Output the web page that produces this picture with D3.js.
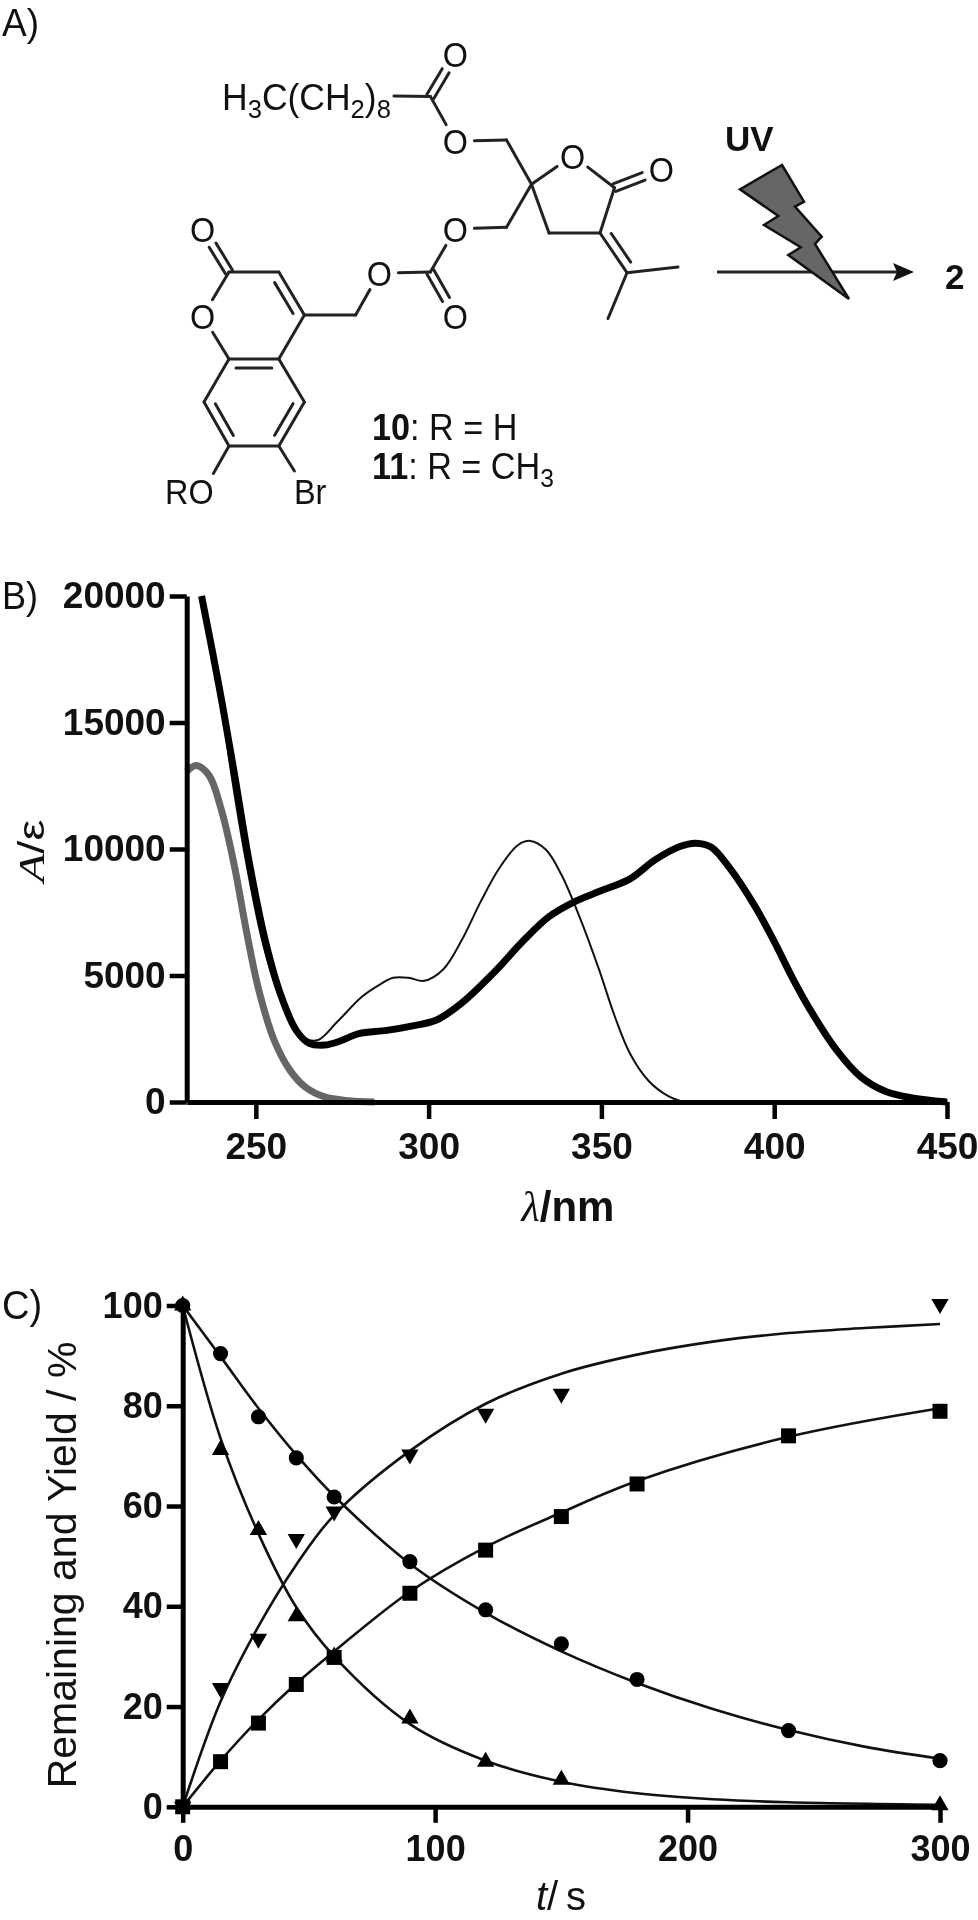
<!DOCTYPE html>
<html>

<head>
    <meta charset="utf-8">
    <title>Photolysis figure</title>
    <script src="https://d3js.org/d3.v7.min.js"></script>
    <style>
        body {
            margin: 0;
            background: #fff;
        }

        svg {
            display: block;
            filter: blur(0.7px);
        }

        text {
            font-family: "Liberation Sans", Arial, sans-serif;
            fill: #111;
        }

        .tick text {
            font-weight: bold;
        }

        .domain,
        .tick line {
            stroke: #000;
        }
    </style>
</head>

<body>
    <svg width="978" height="1920"></svg>

    <script>
        // panel B: absorption spectra, wavelength in nm and epsilon
        const thickNm = [234.3, 239.2, 243.7, 248.2, 252.7, 257.2, 261.7, 265.3, 269.9, 274.4, 279.8, 287.9, 295, 302.3, 309.5, 318.6, 327.6, 334.8, 342, 349.3, 358.3, 365.5, 372.7, 377.3, 381.8, 387.2, 394.4, 399.8, 405.3, 410.7, 417.9, 425, 432.3, 439.5, 450];
        const thickEps = [20000, 16550, 13060, 9400, 6400, 4240, 2830, 2330, 2250, 2410, 2700, 2830, 3000, 3240, 3900, 5075, 6400, 7320, 7900, 8320, 8820, 9570, 10100, 10230, 10070, 9230, 7740, 6400, 4900, 3580, 2080, 1000, 415, 170, 0];
        const thinNm = [234.3, 239.2, 242.8, 247.3, 251.8, 256.3, 260.8, 264.4, 268, 273.5, 280.7, 286.1, 289.7, 294.2, 298.7, 304.2, 309.6, 315, 320.4, 325.8, 329.4, 333.9, 338.4, 343.9, 349.3, 353.8, 358.3, 363.7, 369.1, 373.6];
        const thinEps = [20000, 16550, 13060, 9400, 6400, 4330, 3000, 2500, 2450, 3160, 4160, 4660, 4910, 4910, 4790, 5240, 6400, 7900, 9230, 10150, 10320, 9980, 8990, 7240, 5240, 3410, 1910, 830, 250, 0];
        const grayNm = [230, 232.8, 236.5, 240, 243.7, 247.3, 250.9, 255.4, 259.9, 264.4, 269.9, 277, 284.3];
        const grayEps = [13060, 13300, 12900, 11560, 9400, 6740, 4400, 2410, 1250, 580, 200, 50, 0];
        const wavelengthTicks = [250, 300, 350, 400, 450];
        const epsilonTicks = [0, 5000, 10000, 15000, 20000];

        // panel C: measured points
        const circleT = [0, 15, 30, 45, 60, 90, 120, 150, 180, 240, 300];
        const circleY = [100, 90.4, 77.8, 69.6, 61.8, 48.9, 39.3, 32.5, 25.4, 15.2, 9.2];
        const squareT = [0, 15, 30, 45, 60, 90, 120, 150, 180, 240, 300];
        const squareY = [0, 9, 16.7, 24.4, 29.8, 42.6, 51.2, 57.9, 64.4, 74, 78.9];
        const upT = [0, 15, 30, 45, 60, 90, 120, 150, 300];
        const upY = [100, 71.2, 55.2, 38, 30, 17.6, 9, 5.4, 0.3];
        const downT = [0, 15, 30, 45, 60, 90, 120, 150, 300];
        const downY = [0, 23.7, 33.5, 53.4, 58.9, 70.3, 78.4, 82.4, 100.3];

        // panel C: fitted curves
        const circleFitT = [0, 15, 30, 45, 60, 90, 120, 150, 180, 210, 240, 270, 300];
        const circleFitY = [100, 89.8, 79.5, 70.2, 62, 48.5, 38.7, 31, 24.7, 19.5, 15.3, 12, 9.6];
        const upFitT = [0, 15, 30, 45, 60, 90, 120, 150, 180, 210, 240, 300];
        const upFitY = [100, 73.5, 54.5, 39.8, 30, 16.5, 9.2, 5, 2.7, 1.5, 0.9, 0.4];
        const downFitT = [0, 15, 30, 45, 60, 90, 120, 150, 180, 210, 240, 270, 300];
        const downFitY = [0, 21, 36, 48.3, 58.2, 71, 80.4, 86.4, 90.2, 92.8, 94.5, 95.5, 96.3];
        const squareFitT = [0, 15, 30, 45, 60, 90, 120, 150, 180, 240, 300];
        const squareFitY = [0, 9.2, 17.4, 24.6, 31, 42.9, 51.8, 58.7, 65, 73.8, 79.5];
        const timeTicks = [0, 100, 200, 300];
        const percentTicks = [0, 20, 40, 60, 80, 100];

        // panel A: skeletal formula
        const atoms = {
            chain: [394, 96], c1: [430.4, 96.4], o1: [455.4, 54.4, "O"], o2: [455.4, 141.2, "O"],
            ch2a: [506.5, 140], q: [531.5, 184.2], oRing: [572.7, 155.6, "O"], cLac: [614.5, 187.7],
            oLac: [661.3, 169.4, "O"], cAlpha: [600, 233], ch2r: [549, 233], ch2b: [506.5, 227.3],
            o3: [455.4, 229, "O"], c2: [430.4, 272], o4: [379.3, 273, "O"], o5: [455.4, 316, "O"],
            ch2c: [355.6, 315], c4: [304.4, 315], c3: [278.8, 272], c22: [229, 272],
            o6: [202.7, 229, "O"], o7: [202.7, 316, "O"], c8a: [229, 359], c4a: [278.8, 359],
            c5: [304.4, 402], c6: [278.8, 446], c7: [229, 446], c8: [204, 402],
            ro: [213.4, 473.5], br: [294.4, 471], cIso: [627, 272.7], me1: [678, 267], me2: [608, 318.5]
        };
        const singleBonds = [
            ["chain", "c1"], ["c1", "o2"], ["o2", "ch2a"], ["ch2a", "q"], ["q", "oRing"], ["oRing", "cLac"],
            ["cLac", "cAlpha"], ["cAlpha", "ch2r"], ["ch2r", "q"], ["q", "ch2b"], ["ch2b", "o3"], ["o3", "c2"],
            ["c2", "o4"], ["o4", "ch2c"], ["ch2c", "c4"], ["c3", "c22"], ["c22", "o7"], ["o7", "c8a"],
            ["c4", "c4a"], ["c4a", "c5"], ["c6", "c7"], ["c8", "c8a"], ["c7", "ro"], ["c6", "br"],
            ["cIso", "me1"], ["cIso", "me2"]
        ];
        const centredDoubles = [["c1", "o1"], ["cLac", "oLac"], ["c2", "o5"], ["c22", "o6"]];
        // second line sits inside the ring, or on the given side
        const innerDoubles = [["c3", "c4", 1], ["c8a", "c4a", 1], ["c5", "c6", 1], ["c7", "c8", 1], ["cAlpha", "cIso", -1]];
        const boltPoints = [[782, 165], [740, 189.3], [778.3, 216], [764, 225], [800.7, 247.3], [788.3, 255], [849, 299], [815, 244], [821.7, 236.7], [795, 206.7], [804, 201.7]];

        const svg = d3.select("svg");
        const molX = d3.scaleIdentity();
        const molY = d3.scaleIdentity();

        // 写文字的小工具, sx squeezes the glyphs sideways like the source scan
        function label(x, y, str, size, weight, anchor, sx) {
            return svg.append("text")
                .attr("transform", `translate(${x},${y}) scale(${sx || 1},1)`)
                .attr("font-size", size)
                .attr("font-weight", weight || "normal")
                .attr("text-anchor", anchor || "start")
                .text(str);
        }

        function runs(x, y, size, parts, anchor, sx) {
            const t = svg.append("text")
                .attr("transform", `translate(${x},${y}) scale(${sx || 1},1)`)
                .attr("font-size", size)
                .attr("text-anchor", anchor || "start");
            parts.forEach(p => {
                const s = t.append("tspan").text(p.s);
                if (p.b) s.attr("font-weight", "bold");
                if (p.i) s.attr("font-style", "italic").attr("font-family", p.f || null);
                if (p.sub) s.attr("font-size", size * 0.72).attr("dy", 8);
                if (p.up) s.attr("dy", -8);
            });
            return t;
        }

        // panel letters
        label(2, 36, "A)", 39, "normal", "start", 0.95);
        label(2, 609, "B)", 38, "normal", "start", 0.95);
        label(2, 1319, "C)", 40, "normal", "start", 0.95);

        // panel A bonds
        const mol = svg.append("g").attr("stroke", "#222").attr("stroke-width", 3).attr("stroke-linecap", "round");

        function trimmed(a, b) {
            const p = atoms[a], q = atoms[b];
            const dx = q[0] - p[0], dy = q[1] - p[1], len = Math.hypot(dx, dy);
            const ta = p[2] ? 19 / len : 0, tb = q[2] ? 19 / len : 0;
            return [p[0] + dx * ta, p[1] + dy * ta, q[0] - dx * tb, q[1] - dy * tb, -dy / len, dx / len];
        }

        function bond(x1, y1, x2, y2) {
            mol.append("line")
                .attr("x1", molX(x1)).attr("y1", molY(y1))
                .attr("x2", molX(x2)).attr("y2", molY(y2));
        }

        singleBonds.forEach(b => {
            const t = trimmed(b[0], b[1]);
            bond(t[0], t[1], t[2], t[3]);
        });
        centredDoubles.forEach(b => {
            const t = trimmed(b[0], b[1]);
            bond(t[0] + t[4] * 4, t[1] + t[5] * 4, t[2] + t[4] * 4, t[3] + t[5] * 4);
            bond(t[0] - t[4] * 4, t[1] - t[5] * 4, t[2] - t[4] * 4, t[3] - t[5] * 4);
        });
        innerDoubles.forEach(b => {
            const t = trimmed(b[0], b[1]);
            const ox = t[4] * 9 * b[2], oy = t[5] * 9 * b[2];
            const sx = (t[2] - t[0]) * 0.14, sy = (t[3] - t[1]) * 0.14;
            bond(t[0], t[1], t[2], t[3]);
            bond(t[0] + ox + sx, t[1] + oy + sy, t[2] + ox - sx, t[3] + oy - sy);
        });

        Object.values(atoms).filter(a => a[2]).forEach(a => {
            label(molX(a[0]), molY(a[1]) + 13, a[2], 36, "normal", "middle", 0.9);
        });
        runs(222, 109.5, 37, [{ s: "H" }, { s: "3", sub: 1 }, { s: "C(CH", up: 1 }, { s: "2", sub: 1 }, { s: ")", up: 1 }, { s: "8", sub: 1 }], "start", 0.96);
        label(165, 504, "RO", 36, "normal", "start", 0.9);
        label(294, 504, "Br", 36, "normal", "start", 0.9);
        runs(372, 440, 36, [{ s: "10", b: 1 }, { s: ": R = H" }], "start", 0.95);
        runs(372, 479, 36, [{ s: "11", b: 1 }, { s: ": R = CH" }, { s: "3", sub: 1 }], "start", 0.95);
        label(725, 151, "UV", 35, "bold");
        label(945, 289, "2", 35, "bold");

        // reaction arrow and bolt
        svg.append("line").attr("x1", 717).attr("y1", 272).attr("x2", 900).attr("y2", 272)
            .attr("stroke", "#222").attr("stroke-width", 3);
        svg.append("path").attr("d", d3.line()([[914, 272], [893, 263], [897, 272], [893, 281]])).attr("fill", "#111");
        svg.append("polygon")
            .attr("points", boltPoints.map(p => [molX(p[0]), molY(p[1])].join(",")).join(" "))
            .attr("fill", "#666").attr("stroke", "#111").attr("stroke-width", 2.5).attr("stroke-linejoin", "miter");

        // panel B
        const xB = d3.scaleLinear().domain([230, 450]).range([186.7, 947]);
        const yB = d3.scaleLinear().domain([0, 20000]).range([1102, 596]);
        const lineB = d3.line().x(d => xB(d[0])).y(d => yB(d[1])).curve(d3.curveCatmullRom);

        svg.append("path").datum(d3.zip(grayNm, grayEps)).attr("d", lineB)
            .attr("fill", "none").attr("stroke", "#666").attr("stroke-width", 7);
        svg.append("path").datum(d3.zip(thinNm, thinEps)).attr("d", lineB)
            .attr("fill", "none").attr("stroke", "#111").attr("stroke-width", 2);
        svg.append("path").datum(d3.zip(thickNm, thickEps)).attr("d", lineB)
            .attr("fill", "none").attr("stroke", "#000").attr("stroke-width", 7);

        function styleAxis(g, font) {
            g.selectAll(".domain").attr("stroke-width", 5);
            g.selectAll(".tick line").attr("stroke-width", 4.5);
            g.selectAll("text").attr("font-size", font).attr("font-family", null);
        }

        svg.append("g").attr("transform", "translate(0,1102)")
            .call(d3.axisBottom(xB).tickValues(wavelengthTicks).tickSize(17).tickSizeOuter(0).tickPadding(14).tickFormat(d3.format("d")))
            .call(styleAxis, 37);
        svg.append("g").attr("transform", "translate(186.7,0)")
            .call(d3.axisLeft(yB).tickValues(epsilonTicks).tickSize(17).tickSizeOuter(0).tickPadding(4).tickFormat(d3.format("d")))
            .call(styleAxis, 37);

        runs(44, 851, 36, [{ s: "A", i: 1, f: "Liberation Serif" }, { s: "/ε" }], "middle")
            .attr("transform", "translate(44,851) rotate(-90) scale(1.3,1)");
        runs(568, 1221, 42, [{ s: "λ", i: 1, f: "Liberation Serif" }, { s: "/nm", b: 1 }], "middle");

        // panel C
        const xC = d3.scaleLinear().domain([0, 300]).range([182.7, 940]);
        const yC = d3.scaleLinear().domain([0, 100]).range([1806.8, 1305.5]);
        const lineC = d3.line().x(d => xC(d[0])).y(d => yC(d[1])).curve(d3.curveCatmullRom);

        [[circleFitT, circleFitY], [upFitT, upFitY], [downFitT, downFitY], [squareFitT, squareFitY]].forEach(s => {
            svg.append("path").datum(d3.zip(s[0], s[1])).attr("d", lineC)
                .attr("fill", "none").attr("stroke", "#111").attr("stroke-width", 2.6);
        });

        svg.append("g").attr("transform", "translate(0,1806.8)")
            .call(d3.axisBottom(xC).tickValues(timeTicks).tickSize(16).tickSizeOuter(0).tickPadding(13).tickFormat(d3.format("d")))
            .call(styleAxis, 36);
        svg.append("g").attr("transform", "translate(182.7,0)")
            .call(d3.axisLeft(yC).tickValues(percentTicks).tickSize(16).tickSizeOuter(0).tickPadding(4).tickFormat(d3.format("d")))
            .call(styleAxis, 36);

        function scatter(ts, ys, type, size, rotate) {
            svg.append("g").selectAll("path")
                .data(d3.zip(ts, ys))
                .enter()
                .append("path")
                .attr("d", d3.symbol().type(type).size(size))
                .attr("transform", d => `translate(${xC(d[0])},${yC(d[1])}) rotate(${rotate})`)
                .attr("fill", "#000");
        }

        scatter(upT, upY, d3.symbolTriangle, 130, 0);
        scatter(downT, downY, d3.symbolTriangle, 130, 180);
        scatter(squareT, squareY, d3.symbolSquare, 225, 0);
        scatter(circleT, circleY, d3.symbolCircle, 180, 0);

        label(0, 0, "Remaining and Yield / %", 41, "normal", "middle")
            .attr("transform", "translate(76,1565) rotate(-90)");
        runs(561, 1910, 40, [{ s: "t", i: 1 }, { s: "/\u2009s" }], "middle");
    </script>
</body>

</html>
